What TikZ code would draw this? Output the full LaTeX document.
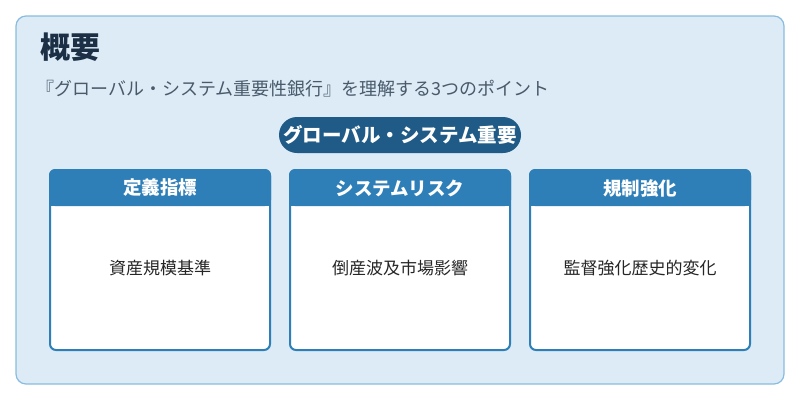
\documentclass[tikz,border=0pt]{standalone}
\usepackage{fontspec}
\setmainfont{Noto Sans CJK JP}
\usetikzlibrary{positioning}
\definecolor{panelbg}{HTML}{DCEBF6}
\definecolor{panelline}{HTML}{8ABCDD}
\definecolor{titlefg}{HTML}{1B2F45}
\definecolor{subfg}{HTML}{4A5A6A}
\definecolor{pillbg}{HTML}{1F5B86}
\definecolor{cardblue}{HTML}{2E7FB8}

\begin{document}
\begin{tikzpicture}[x=1pt, y=-1pt,
    card/.style   = {draw=cardblue, line width=2pt, fill=white, rounded corners=6pt},
    cardhead/.style = {font=\bfseries\fontsize{18.5}{22}\selectfont, text=white},
    cardtext/.style = {font=\fontsize{17}{20}\selectfont, text=black!85},
]
  \useasboundingbox (0,0) rectangle (800,400);
  \draw[panelline, fill=panelbg, line width=1.2pt, rounded corners=10pt]
      (16,16) rectangle (784,384);

  \node[anchor=west, font=\bfseries\fontsize{30}{36}\selectfont, text=titlefg, inner sep=0pt]
      (title) at (40,47) {概要};
  \node[anchor=west, font=\fontsize{18}{21}\selectfont, text=subfg, inner sep=0pt]
      (sub) at (36,89) {『グローバル・システム重要性銀行』を理解する3つのポイント};

  \node[fill=pillbg, rounded corners=18pt, minimum width=242pt, minimum height=36pt,
        inner xsep=2pt, text=white, font=\bfseries\fontsize{19.5}{23}\selectfont]
      (pill) at (400,135) {グローバル・システム重要};

  % cards
  \foreach \x/\head/\body [count=\i] in
      {50/定義指標/資産規模基準, 290/システムリスク/倒産波及市場影響, 530/規制強化/監督強化歴史的変化} {
    \draw[card] (\x,170) rectangle ++(220,180);
    \fill[cardblue, rounded corners=6pt] (\x-1,169) rectangle ++(222,37);
    \fill[cardblue] (\x-1,195) rectangle ++(222,11);
    \node[cardhead] (head\i) at (\x+110,188) {\head};
    \node[cardtext] (body\i) at (\x+110,268) {\body};
  }
\end{tikzpicture}
\end{document}
